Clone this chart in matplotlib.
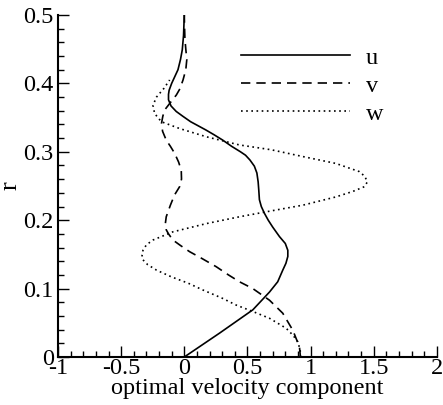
import matplotlib
matplotlib.use("Agg")
import matplotlib.pyplot as plt
from matplotlib.ticker import MultipleLocator

plt.rcParams['font.family'] = ['Liberation Serif', 'DejaVu Serif']

# radial positions and velocity components
r_u = [0, 0.035, 0.069, 0.095, 0.11, 0.127, 0.137, 0.147, 0.156, 0.166,
       0.176, 0.19, 0.2, 0.21, 0.22, 0.23, 0.244, 0.256, 0.269, 0.279,
       0.288, 0.295, 0.3, 0.308, 0.317, 0.325, 0.332, 0.338, 0.344, 0.352,
       0.359, 0.367, 0.376, 0.384, 0.39, 0.4, 0.41, 0.42, 0.435, 0.449,
       0.47, 0.5]
u = [0, 0.28, 0.543, 0.675, 0.74, 0.78, 0.805, 0.82, 0.82, 0.80,
     0.754, 0.70, 0.665, 0.635, 0.61, 0.595, 0.59, 0.585, 0.575, 0.555,
     0.52, 0.485, 0.445, 0.375, 0.305, 0.235, 0.17, 0.11, 0.05, -0.012,
     -0.064, -0.105, -0.125, -0.125, -0.12, -0.10, -0.075, -0.05, -0.03, -0.016,
     -0.006, 0]

r_v = [0, 0.015, 0.039, 0.064, 0.083, 0.1, 0.11, 0.12, 0.132, 0.144,
       0.154, 0.163, 0.171, 0.18, 0.186, 0.195, 0.205, 0.222, 0.237, 0.249,
       0.26, 0.273, 0.285, 0.298, 0.308, 0.317, 0.33, 0.342, 0.352, 0.361,
       0.372, 0.383, 0.392, 0.405, 0.42, 0.435, 0.45, 0.465, 0.483, 0.5]
v = [0.92, 0.912, 0.86, 0.78, 0.675, 0.543, 0.437, 0.35, 0.253, 0.14,
     0.042, -0.03, -0.09, -0.125, -0.143, -0.15, -0.143, -0.11, -0.077, -0.037,
     -0.022, -0.024, -0.045, -0.077, -0.11, -0.143, -0.172, -0.18, -0.17, -0.156,
     -0.11, -0.063, -0.035, -0.01, 0.012, 0.02, 0.012, 0.005, 0.002, 0]

r_w = [0, 0.01, 0.0224, 0.032, 0.042, 0.0566, 0.066, 0.076, 0.086, 0.098,
       0.108, 0.117, 0.127, 0.135, 0.142, 0.149, 0.156, 0.164, 0.171, 0.183,
       0.195, 0.205, 0.214, 0.222, 0.234, 0.242, 0.249, 0.256, 0.264, 0.271,
       0.283, 0.293, 0.303, 0.31, 0.322, 0.334, 0.344, 0.356, 0.368, 0.38,
       0.393, 0.405]
w = [0.92, 0.918, 0.899, 0.86, 0.807, 0.675, 0.55, 0.41, 0.30, 0.147,
     0.03, -0.1, -0.22, -0.29, -0.327, -0.335, -0.327, -0.30, -0.248, -0.09,
     0.174, 0.437, 0.70, 0.94, 1.20, 1.334, 1.427, 1.45, 1.43, 1.387,
     1.20, 0.94, 0.688, 0.437, 0.174, -0.037, -0.182, -0.235, -0.248, -0.22,
     -0.16, -0.116]

fig = plt.figure(figsize=(4.43, 4.05), dpi=100)
ax = fig.add_axes([0.131, 0.1185, 0.855, 0.8445])

ax.plot(u, r_u, color='black', lw=1.2, label='u')
ax.plot(v, r_v, color='black', lw=1.2, dashes=(5.6, 3.6), label='v')
ax.plot(w, r_w, color='black', lw=1.2, dashes=(1, 2.1), label='w')

ax.set_xlim(-1, 2)
ax.set_ylim(0, 0.5)
ax.xaxis.set_major_locator(MultipleLocator(0.5))
ax.xaxis.set_minor_locator(MultipleLocator(0.1))
ax.yaxis.set_major_locator(MultipleLocator(0.1))
ax.yaxis.set_minor_locator(MultipleLocator(0.02))
ax.xaxis.set_major_formatter(plt.FuncFormatter(lambda x, p: '%g' % x))
ax.yaxis.set_major_formatter(plt.FuncFormatter(lambda x, p: '%g' % x))

ax.spines['top'].set_visible(False)
ax.spines['right'].set_visible(False)
ax.spines['left'].set_linewidth(1.5)
ax.spines['bottom'].set_linewidth(1.5)
ax.tick_params(which='both', direction='in', labelsize=17.5, width=1)
ax.tick_params(axis='x', pad=1)
ax.tick_params(axis='y', pad=3)
ax.tick_params(which='major', length=8)
ax.tick_params(which='minor', length=4)

ax.set_xlabel('optimal velocity component', fontsize=17.5)
ax.set_ylabel('r', fontsize=19)
ax.xaxis.set_label_coords(0.5, -0.062)
ax.yaxis.set_label_coords(-0.097, 0.5)

ax.legend(loc='upper left', bbox_to_anchor=(0.483, 0.907), frameon=False,
          fontsize=17.5, handlelength=4.5, handletextpad=0.65,
          labelspacing=0.25, borderpad=0, borderaxespad=0)

fig.savefig('out.png', dpi=100)
